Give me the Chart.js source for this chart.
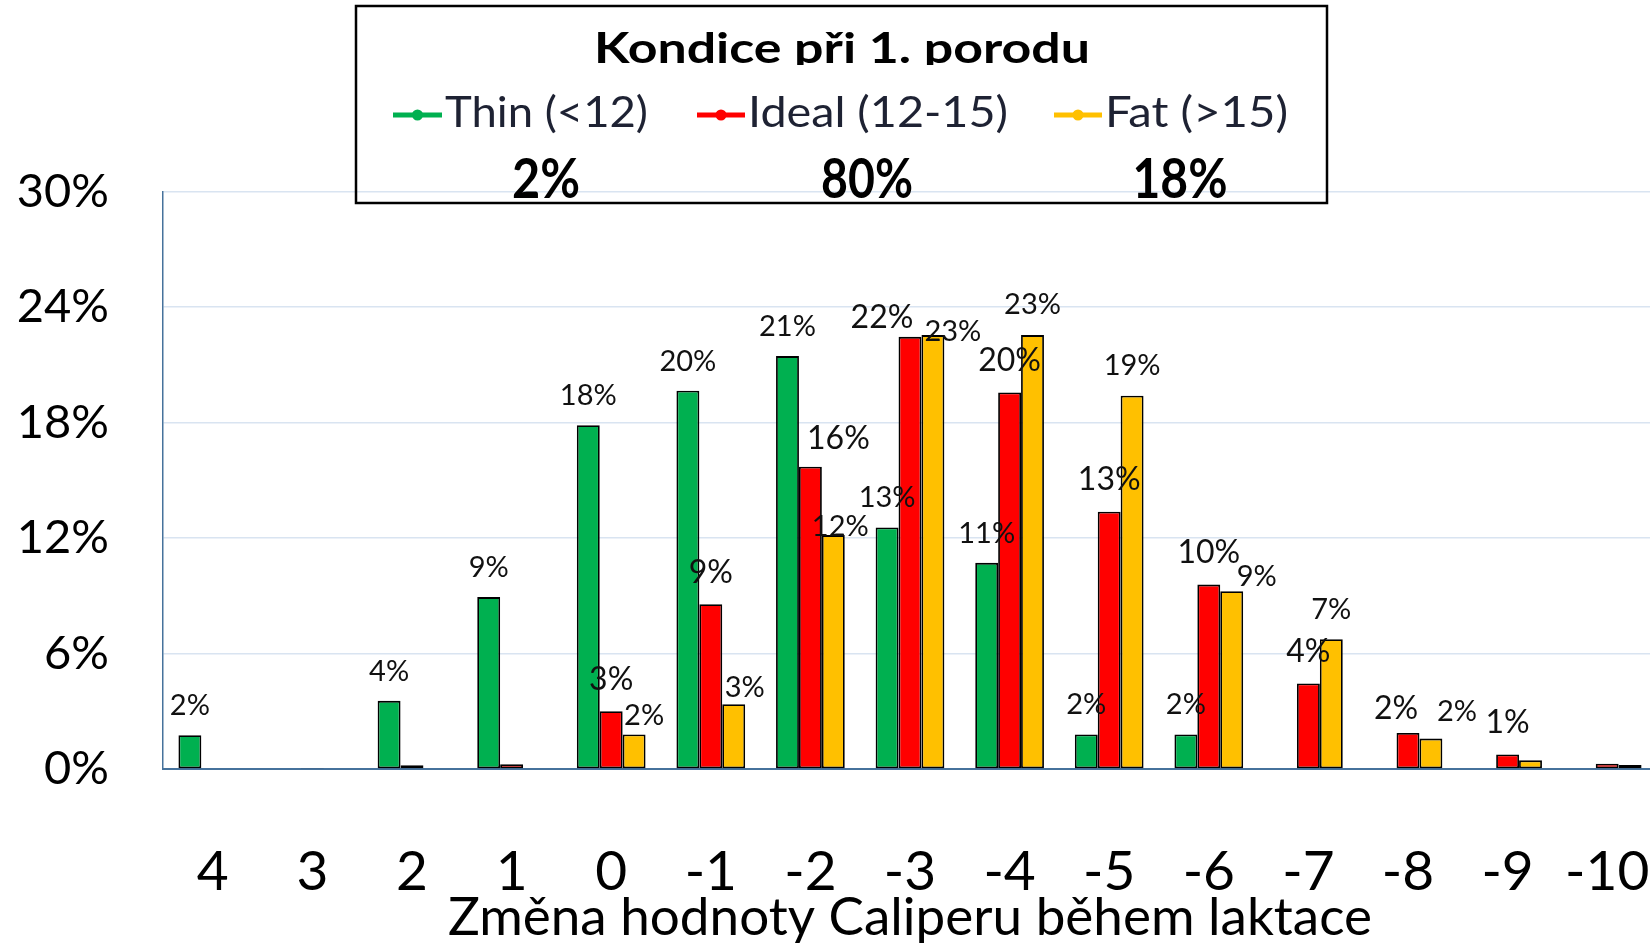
<!DOCTYPE html>
<html lang="cs">
<head>
    <meta charset="UTF-8">
    <title>Kondice při 1. porodu</title>
    <script src="https://cdn.jsdelivr.net/npm/chart.js"></script>
    <style>
        html, body {
            margin: 0;
            padding: 0;
            background: #fff;
            overflow: hidden;
        }
        #wrap {
            position: relative;
            width: 1650px;
            height: 943px;
            overflow: hidden;
        }
        canvas {
            display: block;
        }
    </style>
</head>
<body>
    <div id="wrap">
        <canvas id="chart" width="1660" height="943"></canvas>
    </div>

    <script>
        // Data (percent of cows)
        const categories = ['4', '3', '2', '1', '0', '-1', '-2', '-3', '-4', '-5', '-6', '-7', '-8', '-9', '-10'];
        const thin  = [1.75, null, 3.54, 8.93, 17.86, 19.65, 21.45, 12.55, 10.71, 1.79, 1.79, null, null, null, null];
        const ideal = [null, 0.05, 0.19, 0.25, 3.0, 8.56, 15.7, 22.45, 19.56, 13.36, 9.58, 4.44, 1.87, 0.75, 0.27];
        const fat   = [null, null, null, null, 1.79, 3.36, 12.15, 22.54, 22.54, 19.39, 9.24, 6.74, 1.58, 0.45, 0.21];
        const seriesNames = ['Thin (<12)', 'Ideal (12-15)', 'Fat (>15)'];
        const shareAtCalving = [2, 80, 18];
        const yTicks = [0, 6, 12, 18, 24, 30];
        const chartTitle = 'Kondice při 1. porodu';
        const xTitle = 'Změna hodnoty Caliperu během laktace';

        const colors = ['#00B050', '#FF0000', '#FFC000'];
        const axisBlue = '#46729c';

        // stretch / squeeze a text horizontally to a given width
        function fitText(ctx, text, x, y, width) {
            const natural = ctx.measureText(text).width;
            ctx.save();
            ctx.translate(x, y);
            ctx.scale(width / natural, 1);
            ctx.fillText(text, 0, 0);
            ctx.restore();
        }

        // Value labels above the bars (some were moved by hand in the original)
        const barLabels = {
            id: 'barLabels',
            afterDatasetsDraw(chart, args, opts) {
                const ctx = chart.ctx;
                ctx.save();
                ctx.fillStyle = '#111';
                ctx.textAlign = 'center';
                ctx.textBaseline = 'middle';
                chart.data.datasets.forEach((ds, i) => {
                    const meta = chart.getDatasetMeta(i);
                    ctx.font = opts.sizes[i] + 'px Lato';
                    meta.data.forEach((bar, j) => {
                        const v = ds.data[j];
                        if (v == null || Math.round(v) < 1) return;
                        const nudge = opts.nudge[i + ':' + j] || [0, 0];
                        ctx.fillText(Math.round(v) + '%', bar.x + nudge[0], bar.y - opts.above[i] + nudge[1]);
                    });
                });
                ctx.restore();
            }
        };

        // Boxed title with legend and shares at calving
        const summaryBox = {
            id: 'summaryBox',
            afterDraw(chart, args, opts) {
                const ctx = chart.ctx;
                ctx.save();
                ctx.strokeStyle = '#000';
                ctx.lineWidth = 2.5;
                ctx.strokeRect(356, 6, 971, 197);

                // title is cut off just under its baseline, as in the original
                ctx.save();
                ctx.beginPath();
                ctx.rect(358, 8, 965, 57);
                ctx.clip();
                ctx.fillStyle = '#000';
                ctx.font = 'bold 42px Lato';
                ctx.textAlign = 'left';
                ctx.textBaseline = 'alphabetic';
                fitText(ctx, chartTitle, 594, 63, 496);
                ctx.restore();

                opts.slots.forEach((slot, i) => {
                    const mid = (slot.x0 + slot.x1) / 2;
                    ctx.strokeStyle = colors[i];
                    ctx.fillStyle = colors[i];
                    ctx.lineWidth = 5;
                    ctx.beginPath();
                    ctx.moveTo(slot.x0, 115);
                    ctx.lineTo(slot.x1, 115);
                    ctx.stroke();
                    ctx.beginPath();
                    ctx.arc(mid, 115, 5.5, 0, Math.PI * 2);
                    ctx.fill();

                    ctx.fillStyle = '#1e2233';
                    ctx.font = '42px Lato';
                    ctx.textAlign = 'left';
                    ctx.textBaseline = 'alphabetic';
                    fitText(ctx, seriesNames[i], slot.textX, 127, slot.textW);

                    ctx.fillStyle = '#000';
                    ctx.font = 'bold 55px Lato';
                    ctx.textAlign = 'center';
                    fitText(ctx, shareAtCalving[i] + '%', slot.pctX, 198, slot.pctW);
                });
                ctx.restore();
            }
        };

        const ctx = document.getElementById('chart').getContext('2d');
        new Chart(ctx, {
            type: 'bar',
            data: {
                labels: categories,
                datasets: [thin, ideal, fat].map((values, i) => ({
                    label: seriesNames[i],
                    data: values,
                    backgroundColor: colors[i],
                    borderColor: '#000',
                    borderWidth: 1.8,
                    borderSkipped: false,
                    categoryPercentage: 0.69,
                    barPercentage: 1.0
                }))
            },
            options: {
                responsive: false,
                animation: false,
                layout: {
                    padding: { top: 191.5, right: 3, bottom: 0, left: 0 }
                },
                plugins: {
                    legend: { display: false },
                    tooltip: { enabled: false },
                    barLabels: {
                        sizes: [29, 32, 29],
                        above: [29.5, 32, 30],
                        nudge: {
                            '1:6': [28, 4], '1:7': [-28, 13], '1:12': [-12, 8],
                            '2:4': [10, 11], '2:5': [11, 13.5], '2:6': [7, 22],
                            '2:7': [20, 27], '2:10': [25, 16], '2:12': [26, 3]
                        }
                    },
                    summaryBox: {
                        slots: [
                            { x0: 393, x1: 442, textX: 445, textW: 203, pctX: 546, pctW: 68 },
                            { x0: 697, x1: 745, textX: 748, textW: 260, pctX: 867, pctW: 92 },
                            { x0: 1054, x1: 1102, textX: 1105, textW: 183, pctX: 1180, pctW: 95 }
                        ]
                    }
                },
                scales: {
                    x: {
                        grid: { display: false },
                        border: { display: true, color: axisBlue, width: 2 },
                        ticks: {
                            color: '#000',
                            font: { family: 'Lato', size: 55 },
                            padding: 62,
                            maxRotation: 0,
                            autoSkip: false
                        },
                        title: {
                            display: true,
                            text: xTitle,
                            color: '#000',
                            font: { family: 'Lato', size: 53, lineHeight: 0.9 },
                            padding: { top: 0, bottom: 1 }
                        },
                        afterFit(scale) {
                            scale.height = 174;
                            // the last label may run off the edge, as in the original
                            scale.paddingLeft = 0;
                            scale.paddingRight = 0;
                        }
                    },
                    y: {
                        min: 0,
                        max: 30,
                        afterBuildTicks(scale) {
                            scale.ticks = yTicks.map(v => ({ value: v }));
                        },
                        grid: { color: '#d9e4f1', lineWidth: 1.5, drawTicks: false },
                        border: { display: true, color: axisBlue, width: 1.5 },
                        ticks: {
                            color: '#000',
                            font: { family: 'Lato', size: 47 },
                            padding: 54,
                            callback: v => v + '%'
                        },
                        afterFit(scale) { scale.width = 163; }
                    }
                }
            },
            plugins: [barLabels, summaryBox]
        });
    </script>
</body>
</html>
